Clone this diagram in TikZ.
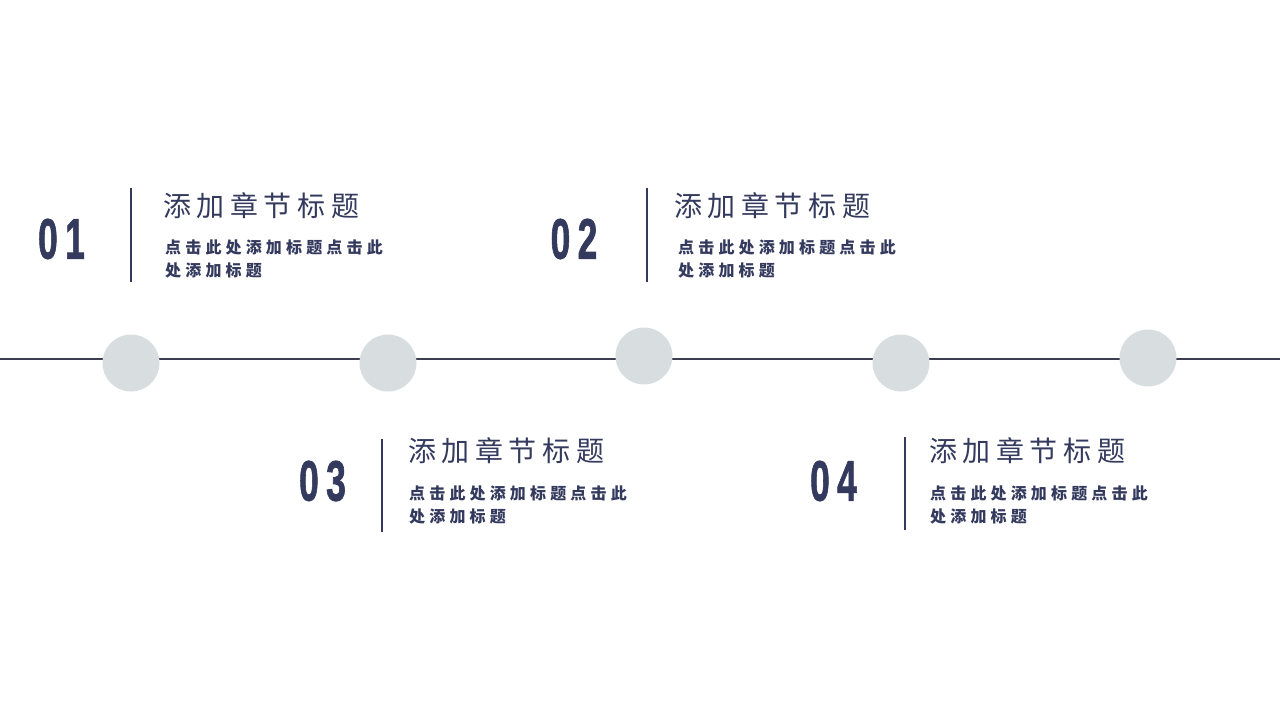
\documentclass[tikz,border=0pt]{standalone}
\usepackage{fontspec}
\newfontfamily\cjktitle[LetterSpace=20]{Noto Sans CJK SC}
\newfontfamily\cjkbody[LetterSpace=26]{Noto Sans CJK SC}
\newfontfamily\numfont[BoldFeatures={FakeBold=1.6}]{Liberation Sans}
\definecolor{navy}{HTML}{343A5E}
\definecolor{linec}{HTML}{3C3D4E}
\definecolor{dotc}{HTML}{D8DDE0}
\newcommand{\numpair}[2]{\scalebox{0.62}[1]{#1\kern12pt #2}}
\begin{document}
\begin{tikzpicture}[x=1pt,y=-1pt,
  dot/.style={circle,fill=dotc,minimum size=57pt,inner sep=0},
  numtxt/.style={text=navy,inner sep=0,font=\numfont\bfseries\fontsize{57}{57}\selectfont},
  divider/.style={draw=navy,line width=2pt},
  title/.style={text=navy,inner sep=0,anchor=base west,font=\cjktitle\fontsize{28}{28}\selectfont},
  body/.style={text=navy,inner sep=0,anchor=north west,align=left,font=\cjkbody\bfseries\fontsize{16}{23}\selectfont}]
\useasboundingbox (0,0) rectangle (1280,720);
\fill[white] (0,0) rectangle (1280,720);
% timeline
\coordinate (L) at (0,359);
\coordinate (R) at (1280,359);
\draw[linec,line width=2pt] (L) -- (R);
\node[dot] (c1) at (131,363) {};
\node[dot] (c2) at (388,363) {};
\node[dot] (c3) at (644,356) {};
\node[dot] (c4) at (901,363) {};
\node[dot] (c5) at (1148,358) {};
% block 1
\node[numtxt] (n1) at (61.5,239) {\numpair{0}{1}};
\coordinate (v1a) at (131,188); \coordinate (v1b) at (131,282);
\draw[divider] (v1a) -- (v1b);
\node[title] (t1) at (163,216) {添加章节标题};
\node[body] (b1) at (165,240) {点击此处添加标题点击此\\处添加标题};
% block 2
\node[numtxt] (n2) at (574,239) {\numpair{0}{2}};
\coordinate (v2a) at (647,188); \coordinate (v2b) at (647,282);
\draw[divider] (v2a) -- (v2b);
\node[title] (t2) at (674,216) {添加章节标题};
\node[body] (b2) at (678,240) {点击此处添加标题点击此\\处添加标题};
% block 3
\node[numtxt] (n3) at (322.5,481) {\numpair{0}{3}};
\coordinate (v3a) at (382,439); \coordinate (v3b) at (382,532);
\draw[divider] (v3a) -- (v3b);
\node[title] (t3) at (408,461) {添加章节标题};
\node[body] (b3) at (409,486) {点击此处添加标题点击此\\处添加标题};
% block 4
\node[numtxt] (n4) at (833.5,481) {\numpair{0}{4}};
\coordinate (v4a) at (905,437); \coordinate (v4b) at (905,530);
\draw[divider] (v4a) -- (v4b);
\node[title] (t4) at (929,461) {添加章节标题};
\node[body] (b4) at (930,486) {点击此处添加标题点击此\\处添加标题};
\end{tikzpicture}
\end{document}
